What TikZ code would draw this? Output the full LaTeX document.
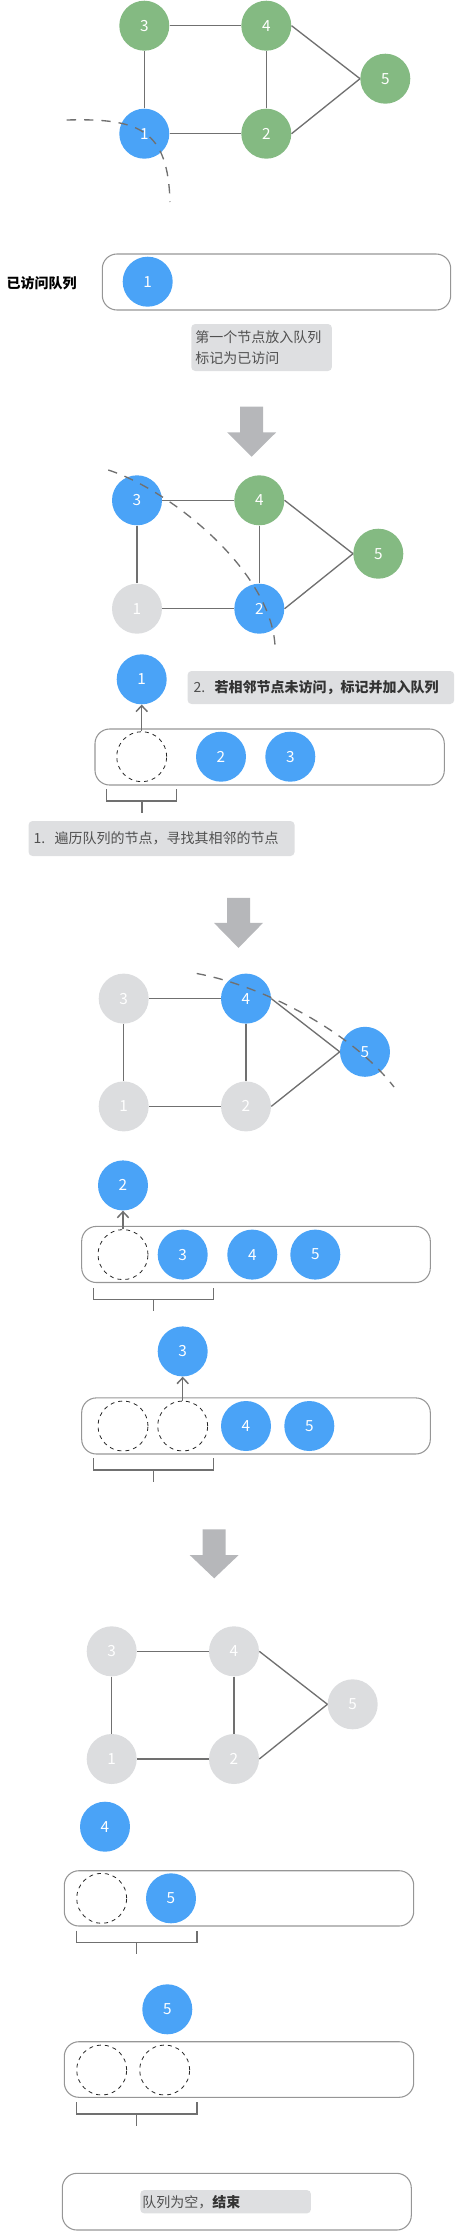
\documentclass[tikz,border=0pt]{standalone}
\usepackage{fontspec}
\newfontfamily\cjk{Noto Sans CJK SC}
\usepackage{tikz}
\usetikzlibrary{arrows.meta}

\definecolor{visblue}{RGB}{74,163,247}
\definecolor{newgreen}{RGB}{132,186,130}
\definecolor{donegray}{RGB}{220,221,223}
\definecolor{edgegray}{RGB}{112,112,112}
\definecolor{boxgray}{RGB}{150,150,150}
\definecolor{tipgray}{RGB}{222,223,225}
\definecolor{arrowgray}{RGB}{182,183,186}
\definecolor{tiptext}{RGB}{80,80,80}

\tikzset{
  gnode/.style={circle,minimum size=37.5pt,inner sep=0pt,text=white,font=\cjk\fontsize{11.5}{12}\selectfont},
  vnode/.style={gnode,fill=visblue},
  unode/.style={gnode,fill=newgreen},
  dnode/.style={gnode,fill=donegray},
  slot/.style={circle,minimum size=37.5pt,inner sep=0pt,draw=black!85,line width=0.6pt,dash pattern={on 3pt off 3pt}},
  edge/.style={draw=edgegray,line width=1pt},
  sweep/.style={draw=edgegray,line width=1pt,dash pattern={on 7pt off 6pt}},
  queue/.style={draw=boxgray,line width=0.8pt,rounded corners=11pt},
  brace/.style={draw=edgegray,line width=1.1pt},
  pop/.style={draw=edgegray,line width=1.1pt,-{Straight Barb[length=4.5pt,width=8.5pt]}},
  tipbox/.style={fill=tipgray,rounded corners=3pt,anchor=west,inner ysep=0pt,align=left,text=tiptext,font=\cjk\fontsize{10.5}{15.75}\selectfont},
  bigarrow/.style={fill=arrowgray}
}

\begin{document}
\begin{tikzpicture}[x=0.75pt,y=0.75pt,yscale=-1,xscale=1]
\useasboundingbox (0,0) rectangle (457,2238);

%%% step 1: start at node 1
\begin{scope}[shift={(144.3,25.7)}]
\node[unode] (a3) at (0,0) {3};
\node[unode] (a4) at (122,0) {4};
\node[unode] (a5) at (241,53) {5};
\node[vnode] (a1) at (0,108) {1};
\node[unode] (a2) at (122,108) {2};
\end{scope}
\draw[edge] (a3) -- (a4);
\draw[edge] (a3) -- (a1);
\draw[edge] (a4) -- (a2);
\draw[edge] (a1) -- (a2);
\draw[edge] (a4.east) -- (a5.west);
\draw[edge] (a2.east) -- (a5.west);
%Curve Lines
\draw[sweep] (66.7,120) .. controls (140,118) and (168,130) .. (170,202);

% Text Node
\node[font=\cjk\bfseries\fontsize{10.5}{12}\selectfont] (lbl) at (41.5,283) {已访问队列};
%Shape: Rectangle
\draw[queue] (102.3,254) rectangle (450.7,310);
\node[vnode] (q1a) at (147.7,281.7) {1};
% Text Node
\node[tipbox,minimum height=35.25pt,inner xsep=3pt,text width=99.5pt] (tip1) at (191,347.5) {第一个节点放入队列\\标记为已访问};

%Block arrow
\fill[bigarrow] (240.2,406.7) -- (263.2,406.7) -- (263.2,432.3) -- (276.2,432.3) -- (251.7,456.7) -- (227.2,432.3) -- (240.2,432.3) -- cycle;

%%% step 2: pop 1, visit 2 and 3
\begin{scope}[shift={(137,500.3)}]
\node[vnode] (b3) at (0,0) {3};
\node[unode] (b4) at (122.3,0) {4};
\node[unode] (b5) at (241.3,53.4) {5};
\node[dnode] (b1) at (0,108.4) {1};
\node[vnode] (b2) at (122.3,108.4) {2};
\end{scope}
\draw[edge] (b3) -- (b4);
\draw[edge] (b3) -- (b1);
\draw[edge] (b4) -- (b2);
\draw[edge] (b1) -- (b2);
\draw[edge] (b4.east) -- (b5.west);
\draw[edge] (b2.east) -- (b5.west);
%Curve Lines
\draw[sweep] (108.3,470) .. controls (170,490) and (270,570) .. (275,645);

\node[vnode] (p2) at (141.7,679.3) {1};
% Text Node
\node[tipbox,minimum height=24.75pt,inner xsep=4.5pt,text width=191pt] (tip2) at (187.3,687.5) {2.\ \ \textcolor{black!80}{\bfseries 若相邻节点未访问，标记并加入队列}};
\draw[queue] (95,729) rectangle (444.3,785);
\node[slot] (s2) at (141.7,756.7) {};
\node[vnode] (q2a) at (221,756.7) {2};
\node[vnode] (q2b) at (290.3,756.7) {3};
\draw[pop] (s2.north) -- (p2.south);
\draw[brace] (106.7,789.3) -- (106.7,801) -- (176.7,801) -- (176.7,789.3);
\draw[brace] (142,801) -- (142,812.7);
% Text Node
\node[tipbox,minimum height=26.25pt,inner xsep=3.75pt,text width=192pt] (tip3) at (28.3,838.5) {1.\ \ 遍历队列的节点，寻找其相邻的节点};

%Block arrow
\fill[bigarrow] (227,897.9) -- (250,897.9) -- (250,922.9) -- (263,922.9) -- (238.5,947.9) -- (214,922.9) -- (227,922.9) -- cycle;

%%% step 3: pop 2, visit 4 and 5, then pop 3
\begin{scope}[shift={(123.7,998.6)}]
\node[dnode] (c3) at (0,0) {3};
\node[vnode] (c4) at (122.3,0) {4};
\node[vnode] (c5) at (241.3,53.2) {5};
\node[dnode] (c1) at (0,107.8) {1};
\node[dnode] (c2) at (122.3,107.8) {2};
\end{scope}
\draw[edge] (c3) -- (c4);
\draw[edge] (c3) -- (c1);
\draw[edge] (c4) -- (c2);
\draw[edge] (c1) -- (c2);
\draw[edge] (c4.east) -- (c5.west);
\draw[edge] (c2.east) -- (c5.west);
%Curve Lines
\draw[sweep] (196.7,973.5) .. controls (260,985) and (350,1030) .. (394,1087);

\node[vnode] (p3) at (123,1185.4) {2};
\draw[queue] (81.7,1226.4) rectangle (430.3,1282.5);
\node[slot] (s3) at (123,1254.6) {};
\node[vnode] (q3a) at (182.7,1254.6) {3};
\node[vnode] (q3b) at (252.3,1254.6) {4};
\node[vnode] (q3c) at (315.3,1254.6) {5};
\draw[pop] (s3.north) -- (p3.south);
\draw[brace] (93.3,1287.9) -- (93.3,1299.6) -- (213.7,1299.6) -- (213.7,1287.9);
\draw[brace] (153.3,1299.6) -- (153.3,1311.1);

\node[vnode] (p4) at (182.7,1351.4) {3};
\draw[queue] (81.7,1397.9) rectangle (430.3,1454);
\node[slot] (s4a) at (123,1426) {};
\node[slot] (s4b) at (182.7,1426) {};
\node[vnode] (q4a) at (246,1426) {4};
\node[vnode] (q4b) at (309.3,1426) {5};
\draw[pop] (s4b.north) -- (p4.south);
\draw[brace] (93.3,1458.3) -- (93.3,1470) -- (213.7,1470) -- (213.7,1458.3);
\draw[brace] (153.3,1470) -- (153.3,1481.7);

%Block arrow
\fill[bigarrow] (202.7,1529.3) -- (225.7,1529.3) -- (225.7,1555) -- (238.7,1555) -- (214.2,1578.3) -- (189.7,1555) -- (202.7,1555) -- cycle;

%%% step 4: all visited, pop 4 and 5
\begin{scope}[shift={(111.7,1651.3)}]
\node[dnode] (d3) at (0,0) {3};
\node[dnode] (d4) at (122.3,0) {4};
\node[dnode] (d5) at (241,53) {5};
\node[dnode] (d1) at (0,107.7) {1};
\node[dnode] (d2) at (122.3,107.7) {2};
\end{scope}
\draw[edge] (d3) -- (d4);
\draw[edge] (d3) -- (d1);
\draw[edge] (d4) -- (d2);
\draw[edge] (d1) -- (d2);
\draw[edge] (d4.east) -- (d5.west);
\draw[edge] (d2.east) -- (d5.west);

\node[vnode] (p5) at (105,1826.7) {4};
\draw[queue] (64.3,1870.7) rectangle (413.7,1926);
\node[slot] (s5) at (101.7,1898.3) {};
\node[vnode] (q5a) at (171,1898.3) {5};
\draw[brace] (76.3,1930.7) -- (76.3,1942.7) -- (197,1942.7) -- (197,1930.7);
\draw[brace] (136.7,1942.7) -- (136.7,1954.3);

\node[vnode] (p6) at (167.3,2009.3) {5};
\draw[queue] (64.3,2041.7) rectangle (413.7,2097.3);
\node[slot] (s6a) at (101.7,2070) {};
\node[slot] (s6b) at (164.7,2070) {};
\draw[brace] (76.3,2102.3) -- (76.3,2114) -- (197,2114) -- (197,2102.3);
\draw[brace] (136.7,2114) -- (136.7,2125.7);

%Shape: Rectangle
\draw[queue] (62.3,2173.3) rectangle (411.3,2230);
% Text Node
\node[tipbox,minimum height=17.5pt,inner xsep=1.5pt,text width=125pt] (tip4) at (140,2201.7) {队列为空，\textcolor{black!80}{\bfseries 结束}};

\end{tikzpicture}
\end{document}
